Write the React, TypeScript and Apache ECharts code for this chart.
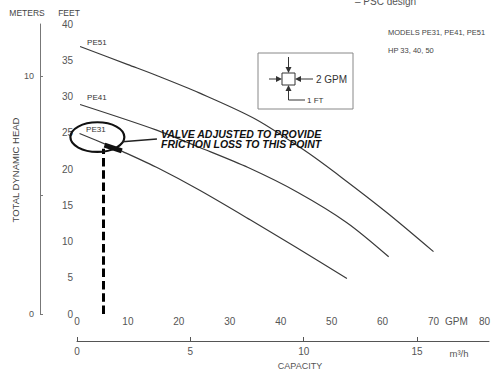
import React, { useEffect, useRef } from "react";
import * as echarts from "echarts";

// Capacity (GPM) vs total dynamic head (feet)
const gpmTicks = [0, 10, 20, 30, 40, 50, 60, 70, 80];
const feetTicks = [0, 5, 10, 15, 20, 25, 30, 35, 40];
const m3hTicks = [0, 5, 10, 15];
const meterLabels = [0, 10];

const pe51: number[][] = [[0.6, 36.9], [10, 34.4], [16, 32.8], [24, 30.5], [35, 26.9], [45, 22.4], [52, 18.8], [61, 13.9], [70, 8.6]];
const pe41: number[][] = [[0.6, 28.9], [15.5, 25.4], [24, 23.0], [33.6, 20.2], [43.3, 16.8], [53, 12.6], [61.2, 7.9]];
const pe31: number[][] = [[0.5, 24.9], [6, 23.3], [9, 22.4], [16, 20.1], [24, 17.1], [34, 13.0], [43, 9.2], [53, 4.9]];
const valveDrop: number[][] = [[5.2, 0], [5.2, 22.8]];
const valveMark: number[][] = [[5.4, 23.3], [8.8, 22.5]];

const curveNames = ["PE51", "PE41", "PE31"];
const curveLabelPos: number[][] = [[3.9, 37.5], [3.9, 29.8], [3.7, 25.5]];

const GPM_PER_M3H = 4.40287;
const FT_PER_M = 3.28084;

const axisFont = "Liberation Sans, Arial, sans-serif";
const labelColor = "#555";
const curveColor = "#3a3a3a";

export default function App() {
  const ref = useRef<HTMLDivElement>(null);

  useEffect(() => {
    if (!ref.current) return;
    const chart = echarts.init(ref.current, undefined, { renderer: "svg" });

    const curveSeries = [pe51, pe41, pe31].map((d, i) => ({
      name: curveNames[i],
      type: "line",
      data: d,
      smooth: 0.3,
      showSymbol: false,
      xAxisIndex: 0,
      yAxisIndex: 0,
      lineStyle: { color: curveColor, width: 1.2 },
      silent: true,
      z: 2,
    }));

    chart.setOption({
      animation: false,
      backgroundColor: "#fff",
      grid: [
        { left: 77, right: 4, top: 24, bottom: 58, containLabel: false },
        { left: 77, right: 4, top: 331, height: 10, containLabel: false },
      ],
      xAxis: [
        {
          type: "value",
          gridIndex: 0,
          min: gpmTicks[0],
          max: gpmTicks[gpmTicks.length - 1],
          interval: 10,
          axisLine: { show: false },
          axisTick: { show: false },
          splitLine: { show: false },
          axisLabel: { color: labelColor, fontSize: 10, fontFamily: axisFont, margin: 2 },
        },
        {
          type: "value",
          gridIndex: 1,
          position: "bottom",
          min: 0,
          max: gpmTicks[gpmTicks.length - 1] / GPM_PER_M3H,
          interval: 5,
          axisLine: { show: true, onZero: false, lineStyle: { color: "#555", width: 1 } },
          axisTick: { show: true, inside: true, length: 4, lineStyle: { color: "#555" } },
          splitLine: { show: false },
          axisLabel: {
            color: labelColor,
            fontSize: 10,
            fontFamily: axisFont,
            margin: 5,
            showMaxLabel: false,
            formatter: (v: number) => (m3hTicks.includes(Math.round(v)) ? String(Math.round(v)) : ""),
          },
        },
      ],
      yAxis: [
        {
          type: "value",
          gridIndex: 0,
          min: feetTicks[0],
          max: feetTicks[feetTicks.length - 1],
          interval: 5,
          axisLine: { show: false },
          axisTick: { show: false },
          splitLine: { show: false },
          axisLabel: { color: labelColor, fontSize: 10, fontFamily: axisFont, margin: 4 },
        },
        {
          type: "value",
          gridIndex: 0,
          position: "left",
          offset: 37,
          min: 0,
          max: feetTicks[feetTicks.length - 1] / FT_PER_M,
          interval: 5,
          axisLine: { show: true, onZero: false, lineStyle: { color: "#777", width: 1 } },
          axisTick: { show: true, inside: true, length: 3, lineStyle: { color: "#777" } },
          splitLine: { show: false },
          axisLabel: {
            color: labelColor,
            fontSize: 9,
            fontFamily: axisFont,
            margin: 6,
            showMaxLabel: false,
            formatter: (v: number) => (meterLabels.includes(Math.round(v)) ? String(Math.round(v)) : ""),
          },
        },
        {
          type: "value",
          gridIndex: 1,
          min: 0,
          max: 1,
          show: false,
        },
      ],
      series: [
        ...curveSeries,
        {
          name: "valve drop",
          type: "line",
          data: valveDrop,
          showSymbol: false,
          xAxisIndex: 0,
          yAxisIndex: 0,
          lineStyle: { color: "#000", width: 3, type: [8.5, 3.8], cap: "butt" },
          silent: true,
          z: 3,
        },
        {
          name: "valve point",
          type: "line",
          data: valveMark,
          showSymbol: false,
          xAxisIndex: 0,
          yAxisIndex: 0,
          lineStyle: { color: "#111", width: 5, cap: "butt" },
          silent: true,
          z: 4,
        },
        {
          name: "m3h scale",
          type: "line",
          data: [],
          xAxisIndex: 1,
          yAxisIndex: 2,
          silent: true,
        },
      ],
    });

    const px = (x: number, y: number) =>
      chart.convertToPixel({ xAxisIndex: 0, yAxisIndex: 0 }, [x, y]) as number[];

    const ellC = px(4.0, 24.4);
    const ellR = px(4.0 + 5.3, 24.4 + 2.05);
    const leadA = px(8.9, 23.75);
    const leadB = px(15.7, 24.15);
    const noteP = px(16.5, 24.7);
    const gpmName = px(74.5, 0);
    const m3hName = px(75, 0);

    const txt = (text: string, x: number, y: number, size: number, opts: any = {}) => ({
      type: "text",
      x,
      y,
      silent: true,
      rotation: opts.rotation || 0,
      style: {
        text,
        fill: opts.fill || "#444",
        font: `${opts.style || "normal"} ${opts.weight || "normal"} ${size}px ${opts.family || axisFont}`,
        align: opts.align || "center",
        verticalAlign: opts.vAlign || "middle",
      },
      z: 10,
    });

    const arrowStroke = { stroke: "#333", lineWidth: 1, fill: "none" };
    const arrowFill = { fill: "#333" };

    const graphic: any[] = [
      txt("METERS", 27, 13, 8.5),
      txt("FEET", 69, 13, 8.5),
      txt("TOTAL DYNAMIC HEAD", 15, 170, 9.5, { rotation: Math.PI / 2 }),
      txt("GPM", gpmName[0], gpmName[1] + 7, 10, { fill: labelColor }),
      txt("m³/h", m3hName[0], 353, 9.5, { fill: labelColor }),
      txt("CAPACITY", 300, 366, 9, { fill: labelColor }),
      txt("– PSC design", 355, 1, 10, { align: "left", fill: "#555" }),
      txt("MODELS PE31, PE41, PE51", 388, 32, 7.5, { align: "left" }),
      txt("HP 33, 40, 50", 388, 50, 7.5, { align: "left" }),
      ...curveNames.map((n, i) => {
        const p = px(curveLabelPos[i][0], curveLabelPos[i][1]);
        return txt(n, p[0], p[1], 8, { fill: "#333" });
      }),
      {
        type: "ellipse",
        silent: true,
        shape: { cx: ellC[0], cy: ellC[1], rx: ellR[0] - ellC[0], ry: ellC[1] - ellR[1] },
        style: { stroke: "#111", lineWidth: 2.2, fill: "none" },
        z: 9,
      },
      {
        type: "line",
        silent: true,
        shape: { x1: leadA[0], y1: leadA[1], x2: leadB[0], y2: leadB[1] },
        style: { stroke: "#222", lineWidth: 1.5 },
        z: 9,
      },
      txt("VALVE ADJUSTED TO PROVIDE", noteP[0], noteP[1] - 1, 10.5, {
        align: "left", style: "italic", weight: "bold", fill: "#111",
      }),
      txt("FRICTION LOSS TO THIS POINT", noteP[0], noteP[1] + 9.5, 10.5, {
        align: "left", style: "italic", weight: "bold", fill: "#111",
      }),
      // inset legend box
      { type: "rect", silent: true, shape: { x: 258, y: 53, width: 95, height: 56 }, style: { stroke: "#888", lineWidth: 1, fill: "none" }, z: 8 },
      { type: "rect", silent: true, shape: { x: 282, y: 73, width: 13, height: 12 }, style: { stroke: "#333", lineWidth: 1, fill: "#fff" }, z: 8 },
      { type: "line", silent: true, shape: { x1: 288.5, y1: 57, x2: 288.5, y2: 69 }, style: arrowStroke, z: 8 },
      { type: "polygon", silent: true, shape: { points: [[285.5, 67], [291.5, 67], [288.5, 73]] }, style: arrowFill, z: 8 },
      { type: "line", silent: true, shape: { x1: 269, y1: 79, x2: 278, y2: 79 }, style: arrowStroke, z: 8 },
      { type: "polygon", silent: true, shape: { points: [[276, 76], [276, 82], [282, 79]] }, style: arrowFill, z: 8 },
      { type: "line", silent: true, shape: { x1: 313, y1: 79, x2: 299, y2: 79 }, style: arrowStroke, z: 8 },
      { type: "polygon", silent: true, shape: { points: [[301, 76], [301, 82], [295, 79]] }, style: arrowFill, z: 8 },
      txt("2 GPM", 316, 79.5, 10, { align: "left", fill: "#333" }),
      { type: "polyline", silent: true, shape: { points: [[288.5, 89], [288.5, 100], [305, 100]] }, style: arrowStroke, z: 8 },
      { type: "polygon", silent: true, shape: { points: [[285.5, 91], [291.5, 91], [288.5, 85]] }, style: arrowFill, z: 8 },
      txt("1 FT", 307, 100.5, 8, { align: "left", fill: "#333" }),
    ];

    chart.setOption({ graphic });

    return () => chart.dispose();
  }, []);

  return (
    <div
      ref={ref}
      style={{ position: "fixed", left: 0, top: 0, width: 493, height: 372, background: "#fff" }}
    />
  );
}
